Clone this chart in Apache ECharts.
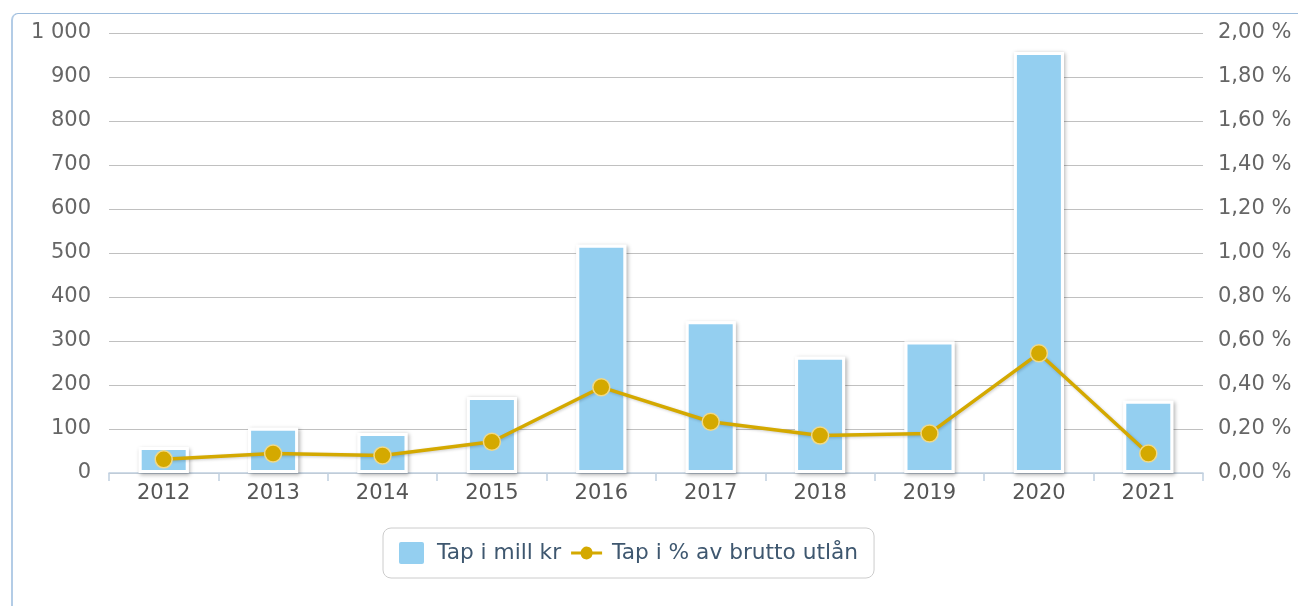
<!DOCTYPE html>
<html>
<head>
<meta charset="utf-8">
<script src="https://cdn.jsdelivr.net/npm/echarts@6/dist/echarts.min.js"></script>
<style>
  html, body { margin: 0; padding: 0; background: #fff; }
  #frame {
    position: absolute; left: 11px; top: 13px; width: 1400px; height: 700px;
    border-top: 1px solid #9dbcdc; border-left: 2px solid #b3cce6;
    border-top-left-radius: 7px;
  }
  #chart { position: absolute; left: 0; top: 0; width: 1298px; height: 606px; }
</style>
</head>
<body>
<div id="frame"></div>
<div id="chart"></div>
<script>
// years on the x axis
let years = ['2012', '2013', '2014', '2015', '2016', '2017', '2018', '2019', '2020', '2021'];
// losses in mill kr (left axis)
let tapMill = [59, 103, 91, 173, 519, 345, 264, 299, 957, 164];
// losses as % of gross lending (right axis)
let tapPct = [0.062, 0.089, 0.080, 0.142, 0.39, 0.233, 0.17, 0.18, 0.544, 0.089];
let seriesNames = ['Tap i mill kr', 'Tap i % av brutto utlån'];

let font = 'DejaVu Sans, Verdana, sans-serif';

let chart = echarts.init(document.getElementById('chart'), null, { renderer: 'canvas' });
window.onresize = function() { chart.resize(); };

let option = {
    backgroundColor: 'transparent',
    animation: false,
    grid: { left: 109, right: 95, top: 33, bottom: 133 },
    legend: {
        data: [
            { name: seriesNames[0], icon: 'path://M2,0h21a2,2 0 0,1 2,2v18a2,2 0 0,1 -2,2h-21a2,2 0 0,1 -2,-2v-18a2,2 0 0,1 2,-2z' },
            { name: seriesNames[1], icon: 'path://M0,4.5h9.6a6,6 0 0,1 11.8,0h9.6v3h-9.6a6,6 0 0,1 -11.8,0h-9.6z' }
        ],
        left: 383,
        top: 528,
        padding: [14, 16, 14, 16],
        itemGap: 10,
        itemWidth: 31,
        itemHeight: 22,
        symbolKeepAspect: true,
        itemStyle: { borderWidth: 0, shadowBlur: 0 },
        borderColor: '#cccccc',
        borderWidth: 1,
        borderRadius: 8,
        textStyle: { color: '#3e576f', fontSize: 21.7, fontFamily: font, padding: [0, 0, 0, 5] }
    },
    xAxis: {
        type: 'category',
        data: years,
        axisLine: { lineStyle: { color: '#c0d0e0', width: 1.5 } },
        axisTick: { show: true, length: 8, lineStyle: { color: '#c0d0e0', width: 1.5 } },
        axisLabel: { color: '#555', fontSize: 21, fontFamily: font, margin: 10 }
    },
    yAxis: [{
        type: 'value',
        min: 0, max: 1000, interval: 100,
        axisLine: { show: false },
        axisTick: { show: false },
        splitLine: { lineStyle: { color: '#c0c0c0', width: 1.2 } },
        axisLabel: {
            color: '#666', fontSize: 21, fontFamily: font, margin: 18,
            formatter: function(v) { return v >= 1000 ? '1 000' : String(v); }
        }
    }, {
        type: 'value',
        min: 0, max: 2, interval: 0.2,
        axisLine: { show: false },
        axisTick: { show: false },
        splitLine: { show: false },
        axisLabel: {
            color: '#666', fontSize: 21, fontFamily: font, margin: 15,
            formatter: function(v) { return v.toFixed(2).replace('.', ',') + ' %'; }
        }
    }],
    series: [{
        // shadow layer drawn under the bars
        name: 'skygge',
        type: 'bar',
        data: tapMill,
        barWidth: 50,
        barGap: '-100%',
        silent: true,
        itemStyle: {
            color: '#ffffff',
            shadowColor: 'rgba(0,0,0,0.3)',
            shadowBlur: 4,
            shadowOffsetX: 1.5,
            shadowOffsetY: 1.5
        }
    }, {
        name: seriesNames[0],
        type: 'bar',
        data: tapMill,
        barWidth: 50,
        barGap: '-100%',
        itemStyle: {
            color: '#94cff0',
            borderColor: '#ffffff',
            borderWidth: 3
        }
    }, {
        name: seriesNames[1],
        type: 'line',
        yAxisIndex: 1,
        data: tapPct,
        symbol: 'circle',
        symbolSize: 17,
        lineStyle: {
            color: '#d4a900', width: 3.5,
            shadowColor: 'rgba(0,0,0,0.2)', shadowBlur: 3, shadowOffsetX: 1, shadowOffsetY: 1
        },
        itemStyle: { color: '#d4a900', borderColor: '#f0d98a', borderWidth: 1.5 },
        z: 5
    }]
};
chart.setOption(option);
</script>
</body>
</html>
